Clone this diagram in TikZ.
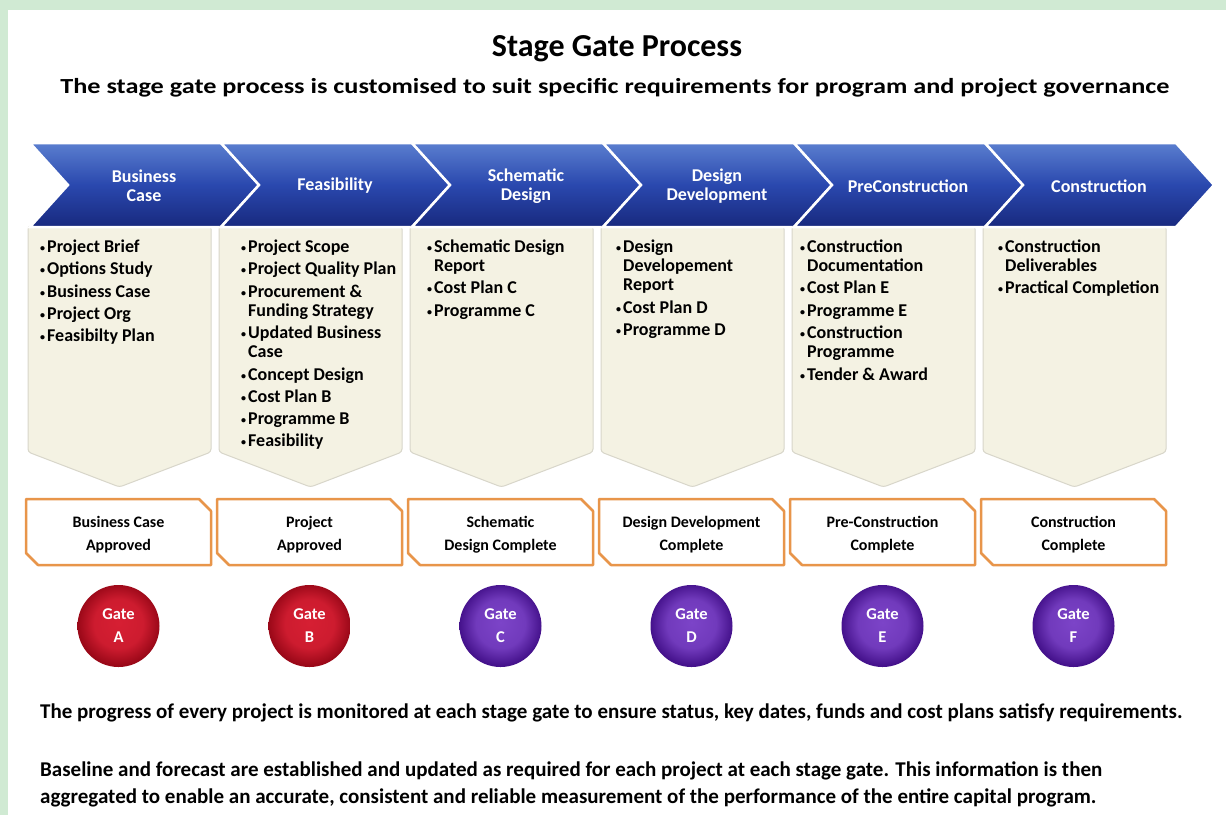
\documentclass[tikz,border=0pt]{standalone}
\usepackage{fontspec}
\setmainfont{Carlito}
\newfontfamily\widefont{Carlito}[FakeStretch=1.22]
\usepackage{enumitem}
\usetikzlibrary{calc}

\definecolor{bgreen}{HTML}{D0EAD3}
\definecolor{chevtop}{HTML}{5A7ECF}
\definecolor{chevmid}{HTML}{2A48AE}
\definecolor{chevbot}{HTML}{18297E}
\definecolor{boxfill}{HTML}{F4F2E3}
\definecolor{boxline}{HTML}{D8D6CA}
\definecolor{gateorange}{HTML}{E8954A}
\definecolor{redlight}{HTML}{D61F33}
\definecolor{reddark}{HTML}{9A0818}
\definecolor{purplelight}{HTML}{7C44C8}
\definecolor{purpledark}{HTML}{45128C}

\pgfdeclareradialshading{redgate}{\pgfpoint{0bp}{2bp}}{color(0bp)=(redlight); color(15bp)=(redlight!85!reddark); color(25bp)=(reddark); color(50bp)=(reddark)}
\pgfdeclareradialshading{purplegate}{\pgfpoint{0bp}{2bp}}{color(0bp)=(purplelight); color(15bp)=(purplelight!80!purpledark); color(25bp)=(purpledark); color(50bp)=(purpledark)}

\tikzstyle{chevron}=[draw=white, line width=2.5pt, top color=chevtop, bottom color=chevbot, middle color=chevmid]
\tikzstyle{itembox}=[fill=boxfill, draw=boxline, line width=1pt, rounded corners=3pt]
\tikzstyle{gatebox}=[fill=white, draw=gateorange, line width=2.5pt, line join=round]
\tikzstyle{stagelabel}=[text=white, align=flush center, font=\fontsize{18}{19}\selectfont\bfseries]
\tikzstyle{gatelabel}=[align=flush center, font=\fontsize{16}{23}\selectfont\bfseries]
\tikzstyle{gate}=[circle, minimum size=82pt, inner sep=0pt, text=white, align=flush center, font=\fontsize{16.5}{23}\selectfont\bfseries]
\tikzstyle{items}=[anchor=north west, text width=174pt, inner sep=0pt, align=flush left, font=\fontsize{18}{19.2}\selectfont\bfseries]
\tikzstyle{bodytext}=[anchor=base west, inner sep=0pt, align=flush left, font=\fontsize{21}{27}\selectfont\bfseries]

\setlist[itemize]{label={\fontsize{10}{10}\selectfont\raisebox{1pt}{\textbullet}}, leftmargin=10pt, labelsep=2pt, itemsep=3.1pt, parsep=0pt, topsep=0pt, partopsep=0pt}

% one stage: deliverables box under a chevron
% Syntax: {left edge of chevron}
\newcommand{\drawstage}[1]{
\pgfmathsetmacro{\chevl}{#1}
\pgfmathsetmacro{\chevr}{#1+191}
\pgfmathsetmacro{\bmid}{#1+89.5}
\fill[itembox] (\chevl-2,226) -- (\chevl+181,226) -- (\chevl+181,452) -- (\bmid,487) -- (\chevl-2,452) -- cycle;
\fill[chevron] (\chevl,143) -- (\chevr,143) -- (\chevr+38,185) -- (\chevr,227) -- (\chevl,227) -- (\chevl+38,185) -- cycle;
}

\begin{document}
\begin{tikzpicture}[x=1pt,y=-1pt]
% page and frame
\fill[bgreen] (0,0) rectangle (1226,815);
\fill[white] (8,10) rectangle (1226,815);
\useasboundingbox (0,0) rectangle (1226,815);

\node[font=\fontsize{32}{36}\selectfont\bfseries] (title) at (617,49) {Stage Gate Process};
\node[font=\fontsize{21.5}{24}\widefont\bfseries] (subtitle) at (615,88) {The stage gate process is customised to suit specific requirements for program and project governance};

\foreach \n/\x/\lab in {1/30/{Business\\Case}, 2/221/Feasibility, 3/412/{Schematic\\Design}, 4/603/{Design\\Development}, 5/794/PreConstruction, 6/985/Construction}{
  \drawstage{\x}
  \node[stagelabel] (s\n) at (\x+114,186) {\lab};
}

% deliverables
\node[items] (i1) at (37,233) {\begin{itemize}
\item Project Brief
\item Options Study
\item Business Case
\item Project Org
\item Feasibilty Plan
\end{itemize}};
\node[items] (i2) at (238,233) {\begin{itemize}
\item Project Scope
\item Project Quality Plan
\item Procurement \&\\ Funding Strategy
\item Updated Business\\ Case
\item Concept Design
\item Cost Plan B
\item Programme B
\item Feasibility
\end{itemize}};
\node[items] (i3) at (424,233) {\begin{itemize}
\item Schematic Design\\ Report
\item Cost Plan C
\item Programme C
\end{itemize}};
\node[items] (i4) at (613,233) {\begin{itemize}
\item Design\\ Developement\\ Report
\item Cost Plan D
\item Programme D
\end{itemize}};
\node[items] (i5) at (797,233) {\begin{itemize}
\item Construction\\ Documentation
\item Cost Plan E
\item Programme E
\item Construction\\ Programme
\item Tender \& Award
\end{itemize}};
\node[items] (i6) at (995,233) {\begin{itemize}
\item Construction\\ Deliverables
\item Practical Completion
\end{itemize}};

% milestones and gates
\foreach \n/\x/\lab/\g/\shd in {1/30/{Business Case\\Approved}/A/redgate, 2/221/{Project\\Approved}/B/redgate, 3/412/{Schematic\\Design Complete}/C/purplegate, 4/603/{Design Development\\Complete}/D/purplegate, 5/794/{Pre-Construction\\Complete}/E/purplegate, 6/985/{Construction\\Complete}/F/purplegate}{
  \draw[gatebox] (\x-4,499) -- (\x+169,499) -- (\x+181,511) -- (\x+181,565) -- (\x+8,565) -- (\x-4,553) -- cycle;
  \node[gatelabel] (m\n) at (\x+88.5,535) {\lab};
  \node[gate, shading=\shd] (gate\g) at (\x+88.5,626) {Gate\\\g};
}

\node[bodytext] (note1) at (40,718) {The progress of every project is monitored at each stage gate to ensure status, key dates, funds and cost plans satisfy requirements.};
\node[bodytext] (note2) at (40,803) {Baseline and forecast are established and updated as required for each project at each stage gate. This information is then\\aggregated to enable an accurate, consistent and reliable measurement of the performance of the entire capital program.};
\end{tikzpicture}
\end{document}
